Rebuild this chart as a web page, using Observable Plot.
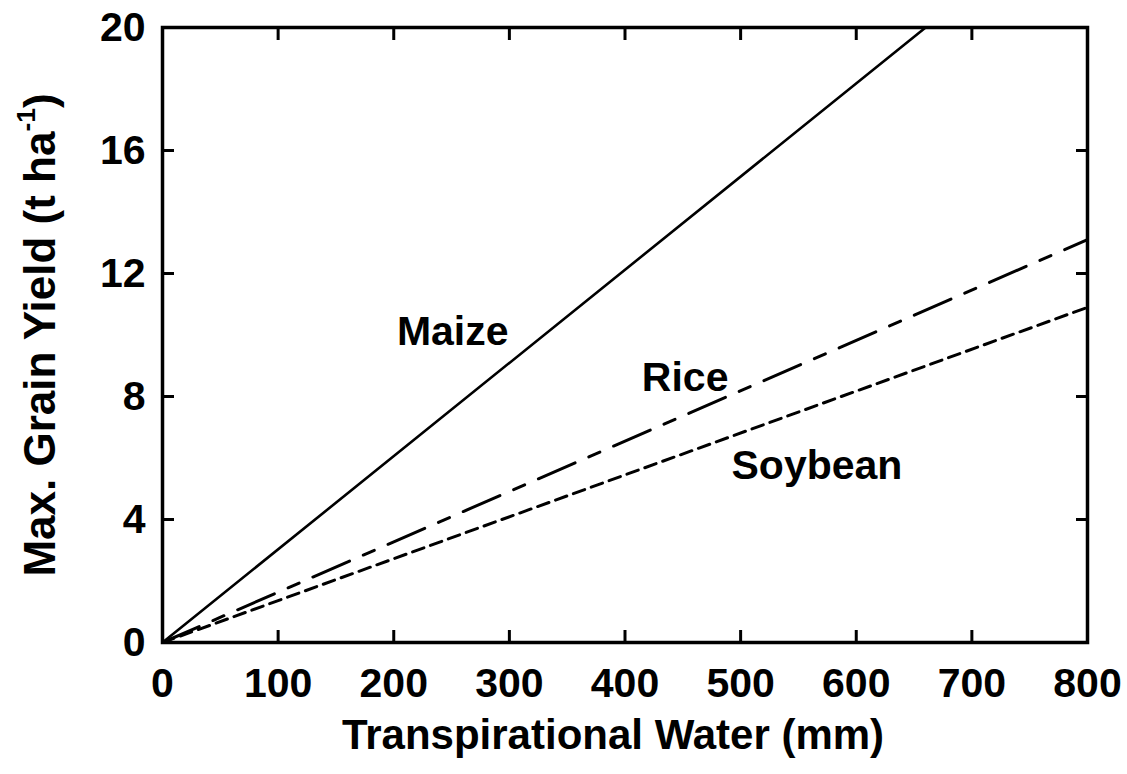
<!DOCTYPE html>
<html><head><meta charset="utf-8">
<script src="https://cdn.jsdelivr.net/npm/d3@7"></script>
<script src="https://cdn.jsdelivr.net/npm/@observablehq/plot@0.6"></script>
<style>body{margin:0;background:#fff}</style>
</head><body><div id="chart"></div>
<script>
const xTicks = [0, 100, 200, 300, 400, 500, 600, 700, 800];
const yTicks = [0, 4, 8, 12, 16, 20];
const maizeWater = [0, 660];
const maizeYield = [0, 20];
const riceWater = [0, 800];
const riceYield = [0, 13.1];
const soyWater = [0, 800];
const soyYield = [0, 10.9];
const cropNames = ["Maize", "Rice", "Soybean"];
const labelWater = [251, 452, 566];
const labelYield = [10.1, 8.6, 5.75];
const xTitle = "Transpirational Water (mm)";
const yTitle = "Max. Grain Yield (t ha-1)";

const pts = (xs, ys) => xs.map((x, i) => ({x, y: ys[i]}));
const labels = cropNames.map((name, i) => ({name, x: labelWater[i], y: labelYield[i]}));
const FS = 41;

const chart = Plot.plot({
  width: 1127, height: 774,
  marginLeft: 162, marginRight: 40, marginTop: 27, marginBottom: 132,
  style: {fontFamily: "'Liberation Sans', Arial, sans-serif", fontSize: FS + "px", fontWeight: "bold", color: "black", background: "white", overflow: "visible"},
  x: {domain: [0, 800]},
  y: {domain: [0, 20]},
  marks: [
    Plot.line(pts(maizeWater, maizeYield), {x: "x", y: "y", stroke: "black", strokeWidth: 2.6}),
    Plot.line(pts(riceWater, riceYield), {x: "x", y: "y", stroke: "black", strokeWidth: 3, strokeDasharray: "40,15,12,15"}),
    Plot.line(pts(soyWater, soyYield), {x: "x", y: "y", stroke: "black", strokeWidth: 3, strokeDasharray: "12,7"}),
    Plot.text(labels, {x: "x", y: "y", text: "name", fontSize: FS, fontWeight: "bold", fill: "black"}),
    // tick labels
    Plot.axisX({ticks: xTicks, tickSize: 0, tickPadding: 25, label: null}),
    Plot.axisY({ticks: yTicks, tickSize: 0, tickPadding: 17, label: null}),
    // inward ticks on all sides
    Plot.axisX({anchor: "bottom", ticks: xTicks.slice(1, -1), tickSize: -12, strokeWidth: 3, fill: "none", label: null}),
    Plot.axisX({anchor: "top", ticks: xTicks.slice(1, -1), tickSize: -12, strokeWidth: 3, fill: "none", label: null}),
    Plot.axisY({anchor: "left", ticks: yTicks.slice(1, -1), tickSize: -12, strokeWidth: 3, fill: "none", label: null}),
    Plot.axisY({anchor: "right", ticks: yTicks.slice(1, -1), tickSize: -12, strokeWidth: 3, fill: "none", label: null}),
    Plot.frame({stroke: "black", strokeWidth: 3.5}),
    Plot.text([xTitle], {text: d => d, frameAnchor: "bottom", textAnchor: "middle", lineAnchor: "middle", dy: 93, dx: -12, fontSize: 42, fontWeight: "bold", fill: "black"}),
    Plot.text([yTitle], {text: d => d, frameAnchor: "left", textAnchor: "middle", lineAnchor: "middle", rotate: -90, dx: -122, fontSize: 44, fontWeight: "bold", fill: "black"})
  ]
});
document.getElementById("chart").appendChild(chart);

// superscript "-1" in the y title
d3.select(chart).selectAll("text").each(function() {
  if (this.textContent === yTitle) {
    const t = d3.select(this);
    t.text(null);
    t.append("tspan").text("Max. Grain Yield (t ha");
    t.append("tspan").attr("font-size", "0.6em").attr("dy", "-0.75em").text("-1");
    t.append("tspan").attr("dy", "0.45em").text(")");
  }
});
</script>
</body></html>
